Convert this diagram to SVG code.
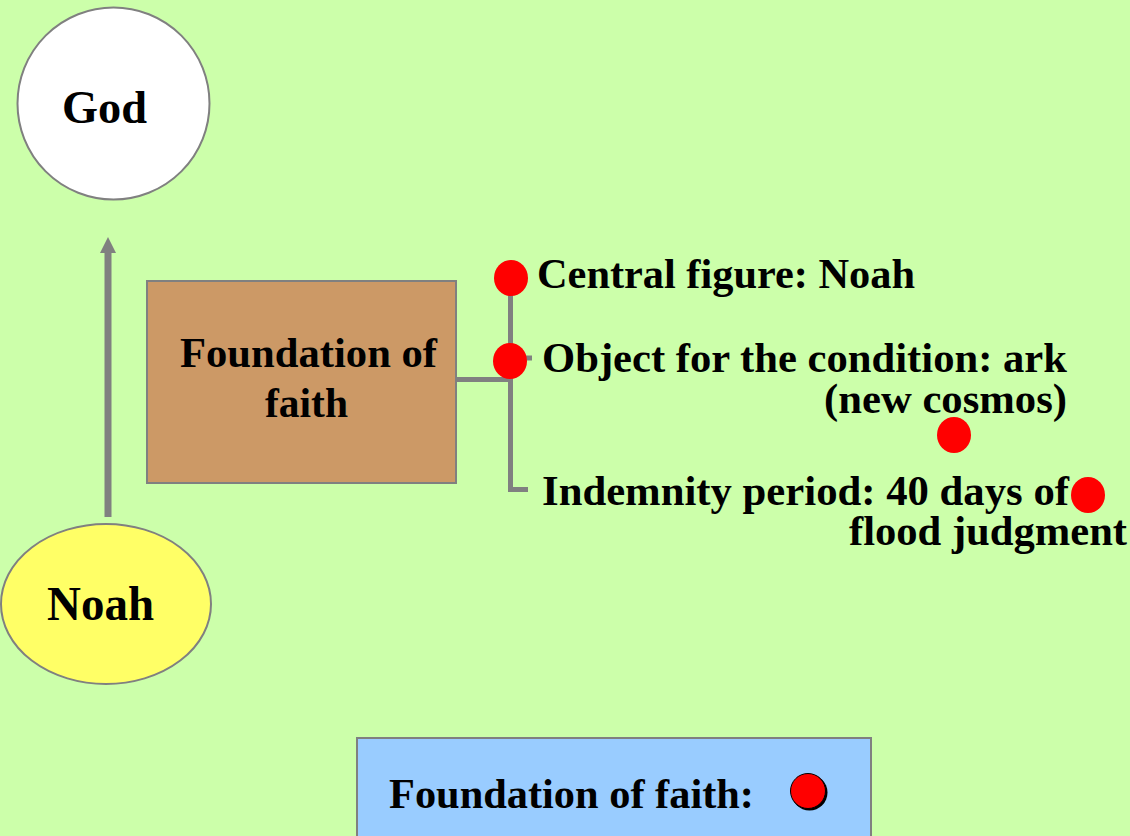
<svg xmlns="http://www.w3.org/2000/svg" width="1130" height="836" viewBox="0 0 1130 836">
<style>
text{font-family:"Liberation Serif","Times New Roman",serif;font-weight:bold;fill:#000;font-size:43px}
.ln{stroke:#808080;stroke-width:5;fill:none}
.dot{fill:#FF0000}
</style>
<rect width="1130" height="836" fill="#CCFFAA"/>
<g id="connectors">
<line class="ln" x1="108" y1="517" x2="108" y2="250" style="stroke-width:7"/>
<polygon points="108,237 100,253 116,253" fill="#808080"/>
<polyline class="ln" points="456,379.5 510.5,379.5"/>
<polyline class="ln" points="510.5,290 510.5,489.5 528,489.5"/>
<line class="ln" x1="510" y1="358" x2="532" y2="358"/>
</g>
<g id="god">
<circle cx="113.5" cy="103.5" r="96" fill="#FFFFFF" stroke="#808080" stroke-width="2"/>
<text x="62" y="123" style="font-size:47px" textLength="85" lengthAdjust="spacingAndGlyphs">God</text>
</g>
<g id="noah">
<ellipse cx="106" cy="604" rx="105" ry="80" fill="#FFFF66" stroke="#808080" stroke-width="2"/>
<text x="47" y="620" style="font-size:48px" textLength="107" lengthAdjust="spacingAndGlyphs">Noah</text>
</g>
<g id="foundation">
<rect x="147" y="281" width="309" height="202" fill="#CC9966" stroke="#808080" stroke-width="2"/>
<text x="180" y="367" textLength="257" lengthAdjust="spacingAndGlyphs">Foundation of</text>
<text x="265" y="417" textLength="83" lengthAdjust="spacingAndGlyphs">faith</text>
</g>
<g id="item-central">
<ellipse class="dot" cx="511" cy="278" rx="17" ry="18"/>
<text x="537" y="288" textLength="378" lengthAdjust="spacingAndGlyphs">Central figure: Noah</text>
</g>
<g id="item-object">
<ellipse class="dot" cx="510" cy="361" rx="17" ry="18"/>
<text x="542" y="372" textLength="525" lengthAdjust="spacingAndGlyphs">Object for the condition: ark</text>
<text x="824" y="413" textLength="243" lengthAdjust="spacingAndGlyphs">(new cosmos)</text>
<ellipse class="dot" cx="954" cy="435" rx="17" ry="18"/>
</g>
<g id="item-indemnity">
<text x="542" y="505" textLength="527" lengthAdjust="spacingAndGlyphs">Indemnity period: 40 days of</text>
<text x="849" y="545" textLength="278" lengthAdjust="spacingAndGlyphs">flood judgment</text>
<ellipse class="dot" cx="1088" cy="495" rx="17" ry="18"/>
</g>
<g id="legend">
<rect x="357" y="738" width="514" height="110" fill="#99CCFF" stroke="#808080" stroke-width="2"/>
<text x="389" y="808" textLength="365" lengthAdjust="spacingAndGlyphs">Foundation of faith:</text>
<ellipse cx="809.5" cy="792.5" rx="18" ry="18" fill="#000"/>
<ellipse cx="808" cy="791" rx="17.5" ry="17.5" fill="#FF0000" stroke="#000" stroke-width="1"/>
</g>
</svg>
